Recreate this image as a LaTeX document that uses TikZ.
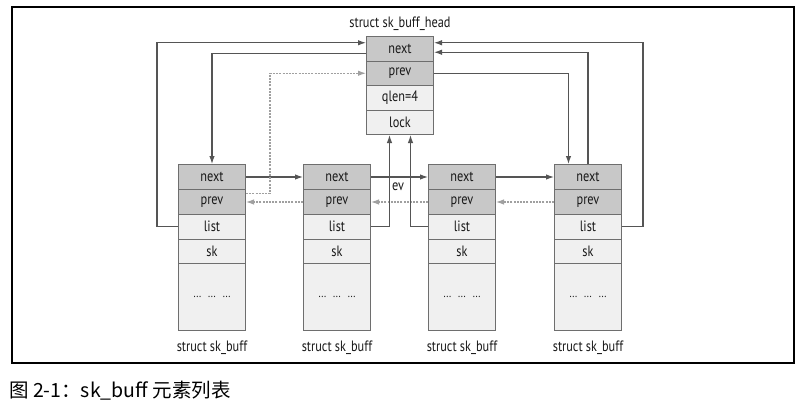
\documentclass[tikz,border=0pt]{standalone}
\usepackage{fontspec}
\setmainfont{PT Sans}
\newfontfamily\labfont[FakeStretch=0.82]{PT Sans}
\newfontfamily\cjk{Noto Sans CJK SC}
\usetikzlibrary{arrows.meta}
\definecolor{bordc}{HTML}{6E6E6E}
\definecolor{darkc}{HTML}{C8C8C8}
\definecolor{lightc}{HTML}{F0F0F0}
\definecolor{linec}{HTML}{555555}
\definecolor{dashc}{HTML}{A0A0A0}
\tikzset{
  rowbox/.style={draw=bordc, line width=1pt, minimum width=67pt, inner sep=0pt, anchor=north west, font=\labfont\fontsize{15}{17}\selectfont, text=black!90},
  darkrow/.style={rowbox, fill=darkc, minimum height=25pt},
  lightrow/.style={rowbox, fill=lightc, minimum height=25pt},
  headrow/.style={rowbox, minimum height=24.5pt},
  conn/.style={draw=linec, line width=1.1pt, -{Latex[length=8pt,width=5.5pt]}},
  dconn/.style={draw=dashc, line width=1.1pt, dash pattern=on 2pt off 1.2pt, -{Latex[length=8pt,width=5.5pt]}},
  caplabel/.style={font=\labfont\fontsize{15}{17}\selectfont, text=black!90, inner sep=0pt}
}
\begin{document}
\begin{tikzpicture}[x=1pt,y=-1pt]
\useasboundingbox (0,0) rectangle (806,410);
\fill[white] (0,0) rectangle (806,410);
% outer frame
\draw[black, line width=1.3pt] (12,7) rectangle (794,363);
% head
\node[headrow, fill=darkc] (h-next) at (366,36) {next};
\node[headrow, fill=darkc] (h-prev) at (366,60.5) {prev};
\node[headrow, fill=lightc] (h-qlen) at (366,85) {qlen=4};
\node[headrow, fill=lightc] (h-lock) at (366,109.5) {lock};
\node[caplabel, anchor=south] (h-lab) at ([yshift=5pt]h-next.north) {struct sk\_buff\_head};
% skb boxes
\foreach \i/\x in {1/178,2/303,3/428,4/554}{
  \node[darkrow] (s\i-next) at (\x,164) {next};
  \node[darkrow] (s\i-prev) at (\x,189) {prev};
  \node[lightrow, minimum height=24.5pt] (s\i-list) at (\x,214) {list};
  \node[lightrow, minimum height=24.5pt] (s\i-sk) at (\x,238.5) {sk};
  \node[lightrow, minimum height=67pt] (s\i-data) at (\x,263) {\fontsize{12}{14}\selectfont\raisebox{1pt}{...\hspace{7pt}...\hspace{7pt}...}};
  \node[caplabel, anchor=north] (s\i-lab) at ([yshift=-10pt]s\i-data.south) {struct sk\_buff};
}
% next chain
\draw[conn] (s1-next.east) -- (s2-next.west);
\draw[conn] (s2-next.east) -- (s3-next.west);
\draw[conn] (s3-next.east) -- (s4-next.west);
\node[caplabel] (ev) at (398,187) {ev};
% prev chain
\draw[dconn] (s2-prev.west) -- (s1-prev.east);
\draw[dconn] (s3-prev.west) -- (s2-prev.east);
\draw[dconn] (s4-prev.west) -- (s3-prev.east);
% head next -> first skb
\draw[conn] ([yshift=-5pt]h-next.west) -| (s1-next.north);
% first skb list -> head next
\draw[conn] (s1-list.west) -- ++(-21,0) |- ([yshift=6pt]h-next.west);
% first skb prev -> head prev (dashed)
\draw[dconn] ([yshift=8.5pt]s1-prev.east) -- ++(24,0) |- (h-prev.west);
% list -> lock
\draw[conn] (s2-list.east) -| ([xshift=-10.5pt]h-lock.south);
\draw[conn] (s3-list.west) -| ([xshift=10.5pt]h-lock.south);
% head prev -> last skb
\draw[conn] (h-prev.east) -| ([xshift=-19.5pt]s4-next.north);
% last skb -> head next
\draw[conn] (s4-next.north) |- ([yshift=-3.5pt]h-next.east);
\draw[conn] (s4-list.east) -- ++(21,0) |- ([yshift=6pt]h-next.east);
% caption
\node[anchor=west, inner sep=0pt, font=\cjk\fontsize{19.5}{22}\selectfont] (cap) at (9,391) {图 2-1：sk\_buff 元素列表};
\end{tikzpicture}
\end{document}
